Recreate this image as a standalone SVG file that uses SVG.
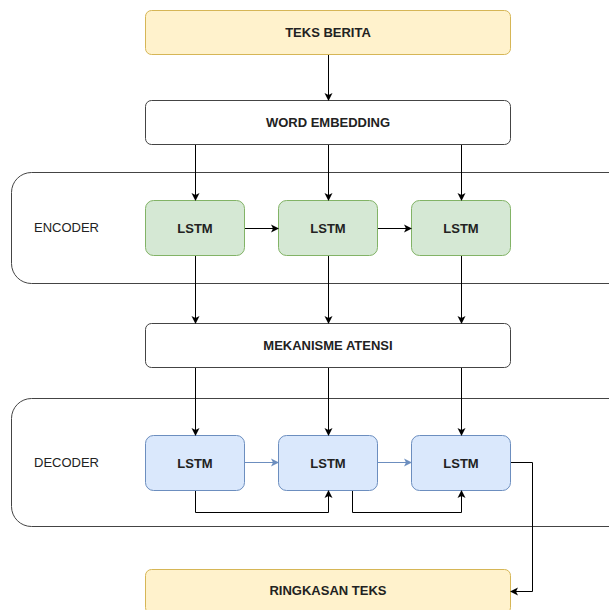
<svg xmlns="http://www.w3.org/2000/svg" width="609" height="610" viewBox="0 0 609 610">
  <defs>
    <marker id="arrowBlack" markerWidth="10" markerHeight="10" refX="8" refY="5" orient="auto" markerUnits="userSpaceOnUse">
      <path d="M1,1 L9,5 L1,9 L3,5 Z" fill="#000"/>
    </marker>
    <marker id="arrowBlue" markerWidth="10" markerHeight="10" refX="8" refY="5" orient="auto" markerUnits="userSpaceOnUse">
      <path d="M1,1 L9,5 L1,9 L3,5 Z" fill="#6c8ebf"/>
    </marker>
    <style>
      .lbl { font-family: "Liberation Sans", Arial, sans-serif; font-size: 13px; font-weight: bold; fill: #222; text-anchor: middle; dominant-baseline: central; }
      .side { font-family: "Liberation Sans", Arial, sans-serif; font-size: 13px; fill: #222; dominant-baseline: central; }
      .yellow { fill: #fff2cc; stroke: #d6b656; stroke-width: 1; }
      .plain { fill: #ffffff; stroke: #444; stroke-width: 1; }
      .green { fill: #d5e8d4; stroke: #82b366; stroke-width: 1; }
      .blue { fill: #dae8fc; stroke: #6c8ebf; stroke-width: 1; }
      .frame { fill: #ffffff; stroke: #444; stroke-width: 1; }
      .edge { fill: none; stroke: #000; stroke-width: 1; marker-end: url(#arrowBlack); }
      .edgeBlue { fill: none; stroke: #6c8ebf; stroke-width: 1; marker-end: url(#arrowBlue); }
    </style>
  </defs>

  <rect width="609" height="610" fill="#ffffff"/>

  <!-- containers -->
  <g id="encoder">
    <rect class="frame" x="11.5" y="172.5" width="620" height="111" rx="20"/>
    <text class="side" x="34" y="227">ENCODER</text>
  </g>
  <g id="decoder">
    <rect class="frame" x="11.5" y="398.5" width="620" height="128" rx="20"/>
    <text class="side" x="34" y="462">DECODER</text>
  </g>

  <!-- top / bottom nodes -->
  <g id="teks-berita">
    <rect class="yellow" x="145.5" y="10.5" width="365" height="44" rx="6"/>
    <text class="lbl" x="328" y="32.5">TEKS BERITA</text>
  </g>
  <g id="word-embedding">
    <rect class="plain" x="145.5" y="100.5" width="365" height="44" rx="6"/>
    <text class="lbl" x="328" y="122.5">WORD EMBEDDING</text>
  </g>
  <g id="mekanisme-atensi">
    <rect class="plain" x="145.5" y="323.5" width="365" height="44" rx="6"/>
    <text class="lbl" x="328" y="345.5">MEKANISME ATENSI</text>
  </g>
  <g id="ringkasan-teks">
    <rect class="yellow" x="145.5" y="569.5" width="365" height="44" rx="6"/>
    <text class="lbl" x="328" y="590">RINGKASAN TEKS</text>
  </g>

  <!-- encoder cells -->
  <g id="enc-lstm-1">
    <rect class="green" x="145.5" y="200.5" width="99" height="55" rx="8"/>
    <text class="lbl" x="195" y="228">LSTM</text>
  </g>
  <g id="enc-lstm-2">
    <rect class="green" x="278.5" y="200.5" width="99" height="55" rx="8"/>
    <text class="lbl" x="328" y="228">LSTM</text>
  </g>
  <g id="enc-lstm-3">
    <rect class="green" x="411.5" y="200.5" width="99" height="55" rx="8"/>
    <text class="lbl" x="461" y="228">LSTM</text>
  </g>

  <!-- decoder cells -->
  <g id="dec-lstm-1">
    <rect class="blue" x="145.5" y="435.5" width="99" height="55" rx="8"/>
    <text class="lbl" x="195" y="463">LSTM</text>
  </g>
  <g id="dec-lstm-2">
    <rect class="blue" x="278.5" y="435.5" width="99" height="55" rx="8"/>
    <text class="lbl" x="328" y="463">LSTM</text>
  </g>
  <g id="dec-lstm-3">
    <rect class="blue" x="411.5" y="435.5" width="99" height="55" rx="8"/>
    <text class="lbl" x="461" y="463">LSTM</text>
  </g>

  <!-- connectors -->
  <g id="connectors">
    <path class="edge" d="M328.5,55 V100"/>
    <path class="edge" d="M195.5,145 V200"/>
    <path class="edge" d="M328.5,145 V200"/>
    <path class="edge" d="M461.5,145 V200"/>
    <path class="edge" d="M245,228.5 H278"/>
    <path class="edge" d="M378,228.5 H411"/>
    <path class="edge" d="M195.5,256 V323"/>
    <path class="edge" d="M328.5,256 V323"/>
    <path class="edge" d="M461.5,256 V323"/>
    <path class="edge" d="M195.5,368 V435"/>
    <path class="edge" d="M328.5,368 V435"/>
    <path class="edge" d="M461.5,368 V435"/>
    <path class="edgeBlue" d="M245,462.5 H278"/>
    <path class="edgeBlue" d="M378,462.5 H411"/>
    <path class="edge" d="M195.5,491 V512.5 H328.5 V491"/>
    <path class="edge" d="M352.5,491 V512.5 H461.5 V491"/>
    <path class="edge" d="M511,462.5 H532.5 V591.5 H511"/>
  </g>
</svg>
